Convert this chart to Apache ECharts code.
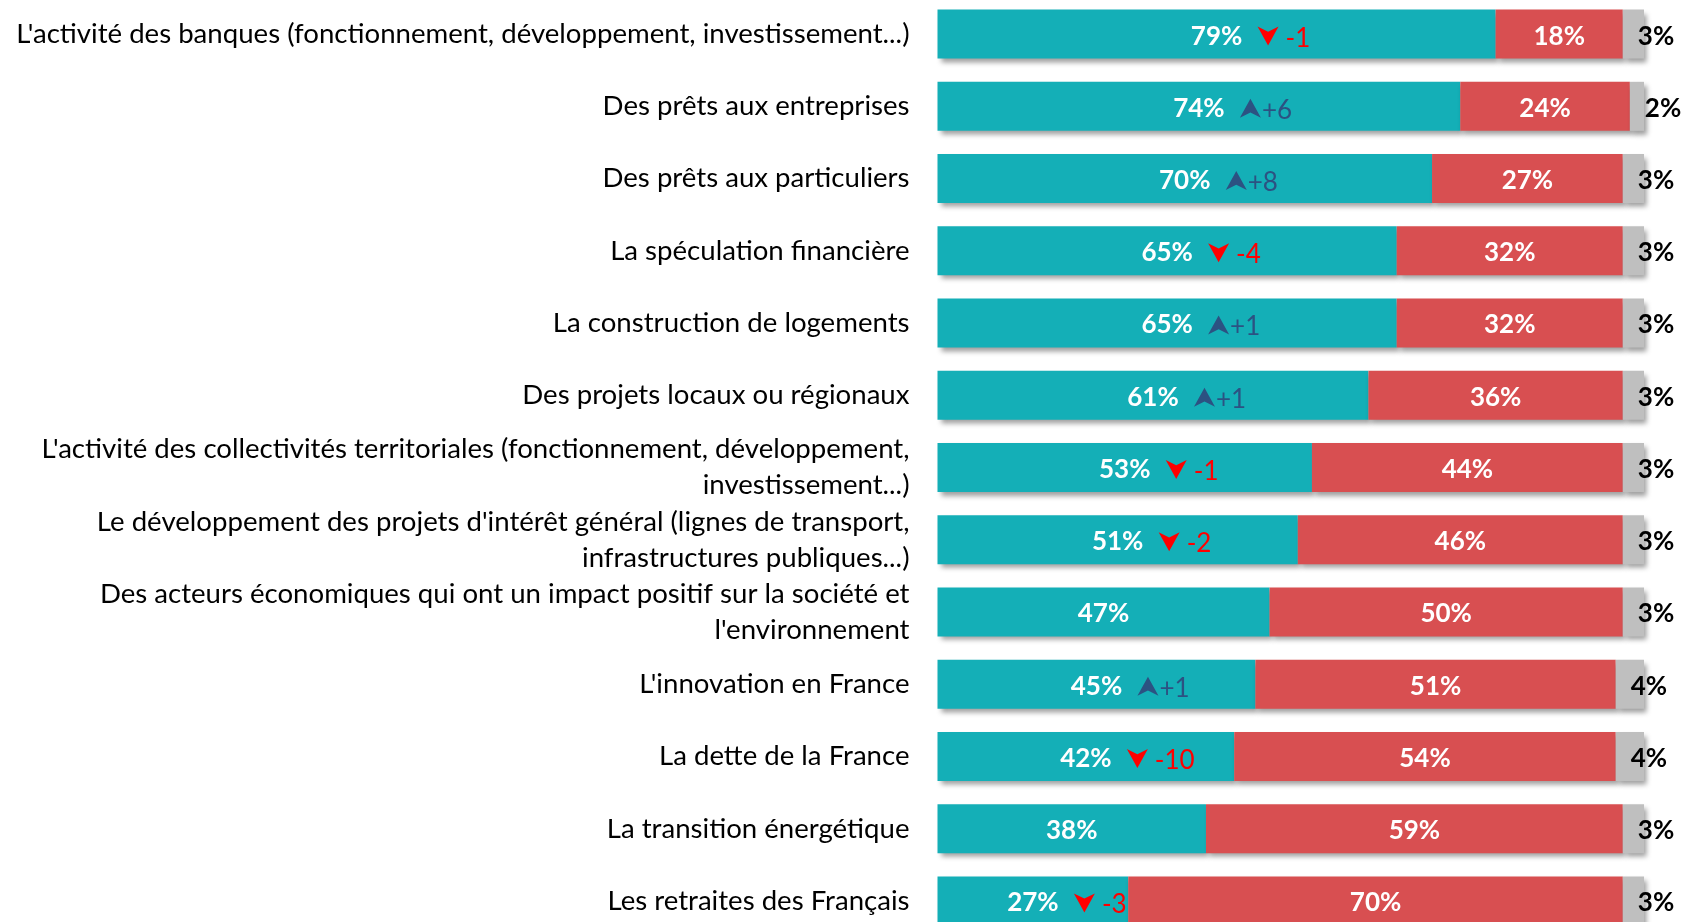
<!DOCTYPE html>
<html><head><meta charset="utf-8">
<script src="https://cdn.jsdelivr.net/npm/echarts/dist/echarts.min.js"></script>
<style>html,body{margin:0;padding:0;background:#fff}#c{width:1682px;height:922px}</style>
</head><body><div id="c"></div>
<script>
const categories = [
  "L'activité des banques (fonctionnement, développement, investissement...)",
  "Des prêts aux entreprises",
  "Des prêts aux particuliers",
  "La spéculation financière",
  "La construction de logements",
  "Des projets locaux ou régionaux",
  "L'activité des collectivités territoriales (fonctionnement, développement,\ninvestissement...)",
  "Le développement des projets d'intérêt général (lignes de transport,\ninfrastructures publiques...)",
  "Des acteurs économiques qui ont un impact positif sur la société et\nl'environnement",
  "L'innovation en France",
  "La dette de la France",
  "La transition énergétique",
  "Les retraites des Français"
];
const favorable   = [79, 74, 70, 65, 65, 61, 53, 51, 47, 45, 42, 38, 27];
const unfavorable = [18, 24, 27, 32, 32, 36, 44, 46, 50, 51, 54, 59, 70];
const noAnswer    = [3, 2, 3, 3, 3, 3, 3, 3, 3, 4, 4, 3, 3];
const deltas      = [-1, 6, 8, -4, 1, 1, -1, -2, null, 1, -10, null, -3];

const TEAL = '#14AFB7', RED = '#D84F51', GREY = '#BFBFBF';
const UPC = '#2C5282', DOWNC = '#FF0000';
const FONT = 'Lato';
const shadow = {shadowBlur: 5, shadowColor: 'rgba(0,0,0,0.38)', shadowOffsetX: 3, shadowOffsetY: 4};

const deltaData = [];
deltas.forEach((d, i) => { if (d !== null) deltaData.push([favorable[i], i, d]); });

const chart = echarts.init(document.getElementById('c'), null, {renderer: 'canvas'});
chart.setOption({
  animation: false,
  backgroundColor: '#fff',
  grid: {left: 937.5, right: 38, top: -2, height: 939, containLabel: false, outerBoundsMode: 'none'},
  xAxis: {type: 'value', min: 0, max: 100, show: false},
  yAxis: {
    type: 'category', data: categories, inverse: true,
    axisLine: {show: false}, axisTick: {show: false}, splitLine: {show: false},
    axisLabel: {fontFamily: FONT, fontSize: 27.6, color: '#000', margin: 28, lineHeight: 36, align: 'right'}
  },
  series: [
    {type: 'bar', stack: 't', data: favorable, barWidth: 49,
     itemStyle: Object.assign({color: TEAL}, shadow),
     label: {show: true, position: 'inside', formatter: '{c}%', color: '#fff', fontFamily: FONT, fontWeight: 'bold', fontSize: 26, offset: [0, 2]}},
    {type: 'bar', stack: 't', data: unfavorable, barWidth: 49,
     itemStyle: Object.assign({color: RED}, shadow),
     label: {show: true, position: 'inside', formatter: '{c}%', color: '#fff', fontFamily: FONT, fontWeight: 'bold', fontSize: 26, offset: [0, 2]}},
    {type: 'bar', stack: 't', data: noAnswer, barWidth: 49,
     itemStyle: Object.assign({color: GREY}, shadow),
     label: {show: true, position: [15, '50%'], align: 'left', verticalAlign: 'middle', formatter: '{c}%', color: '#000', fontFamily: FONT, fontWeight: 'bold', fontSize: 26, offset: [0, 2]}},
    {type: 'custom', data: deltaData, encode: {x: 0, y: 1}, z: 10,
     renderItem: function (params, api) {
       const fav = api.value(0), idx = api.value(1), d = api.value(2);
       const p = api.coord([fav / 2, idx]);
       const cx = p[0] + 51.5, cy = p[1] + 2;
       const up = d > 0;
       const color = up ? UPC : DOWNC;
       const w = 10.5, h = 9.5;
       const pts = up
         ? [[cx - w, cy + h], [cx, cy - h], [cx + w, cy + h], [cx, cy + h * 0.45]]
         : [[cx - w, cy - h], [cx, cy - h * 0.45], [cx + w, cy - h], [cx, cy + h]];
       return {type: 'group', children: [
         {type: 'polygon', shape: {points: pts}, style: {fill: color}},
         {type: 'text', x: cx + w + (up ? 1 : 7), y: p[1] + 4,
          style: {text: (up ? '+' : '') + d, fill: color, fontFamily: FONT, fontSize: 26, align: 'left', verticalAlign: 'middle'}}
       ]};
     }}
  ]
});
</script>
</body></html>
